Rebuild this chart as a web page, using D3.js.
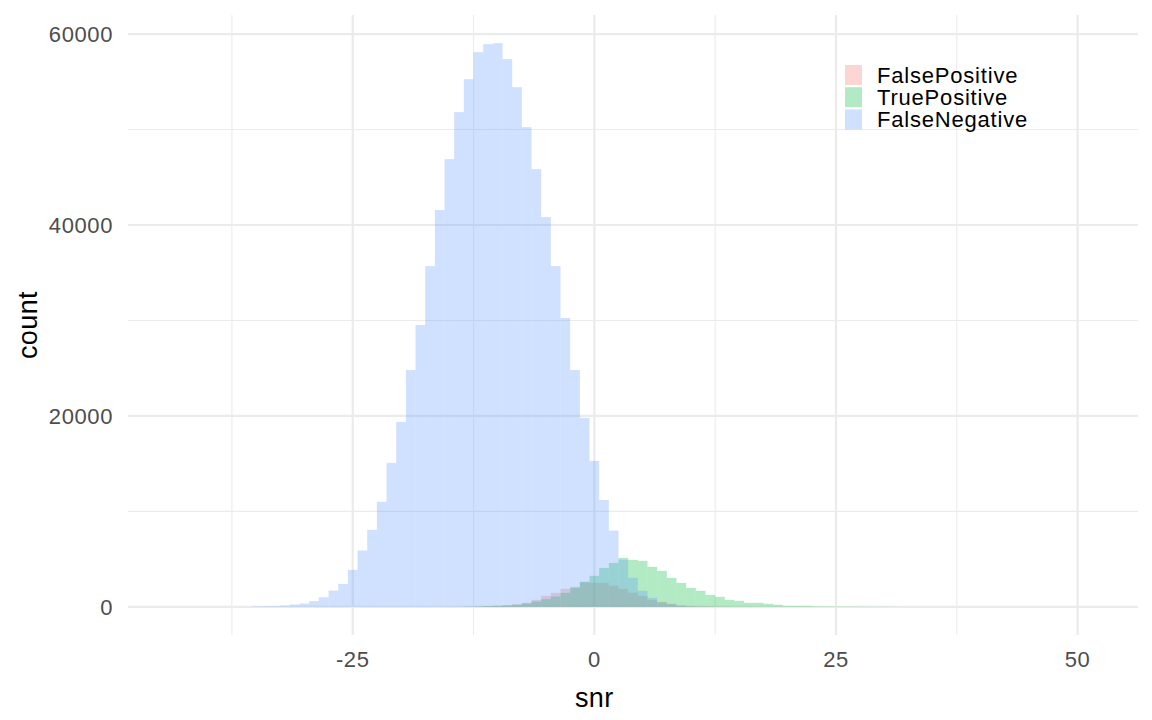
<!DOCTYPE html>
<html lang="en">
<head>
<meta charset="UTF-8">
<title>snr histogram</title>
<script src="https://cdn.jsdelivr.net/npm/d3@7"></script>
<style>
  body { margin: 0; background: #fff; }
  text { font-family: "Liberation Sans", Arial, sans-serif; }
</style>
</head>
<body>
<div id="chart"></div>
<script>
// bin centres (binwidth 1) and counts per class
const snrBins = [-35, -34, -33, -32, -31, -30, -29, -28, -27, -26, -25, -24, -23, -22, -21, -20,
  -19, -18, -17, -16, -15, -14, -13, -12, -11, -10, -9, -8, -7, -6, -5, -4, -3, -2, -1, 0,
  1, 2, 3, 4, 5, 6, 7, 8, 9, 10, 11, 12, 13, 14, 15, 16, 17, 18, 19, 20,
  21, 22, 23, 24, 25, 26, 27, 28, 29, 30, 31]

const falseNegative = [50, 60, 80, 140, 240, 340, 600, 1000, 1700, 2400, 3870, 5900, 8060, 11000, 15080, 19370,
  24810, 29520, 35700, 41570, 46900, 51830, 55280, 58110, 58950, 59050, 57380, 54440, 50260, 45860, 40830, 35700, 30260, 24810, 19790, 15290,
  11200, 7990, 4920, 3036, 1675, 940, 420, 250, 100, 50, 30, 15, 8, 5, 0, 0, 0, 0, 0, 0,
  0, 0, 0, 0, 0, 0, 0, 0, 0, 0, 0]

const truePositive = [0, 0, 0, 0, 0, 0, 0, 0, 0, 0, 0, 0, 0, 0, 0, 0,
  0, 0, 0, 0, 0, 0, 30, 50, 80, 110, 150, 210, 350, 560, 800, 1080, 1465, 1990, 2620, 3245,
  4080, 4600, 5130, 4920, 4816, 4190, 3770, 3036, 2510, 1990, 1675, 1256, 1047, 730, 628, 420, 420, 315, 210, 105,
  105, 105, 50, 45, 40, 35, 30, 25, 20, 15, 10]

const falsePositive = [0, 0, 0, 0, 0, 0, 0, 0, 0, 0, 0, 0, 0, 0, 0, 0,
  0, 0, 0, 0, 0, 0, 20, 40, 70, 110, 160, 280, 420, 730, 1150, 1465, 1885, 2094, 2560, 2510,
  2510, 2200, 1885, 1465, 1150, 730, 520, 330, 150, 70, 50, 40, 25, 15, 10, 0, 0, 0, 0, 0,
  0, 0, 0, 0, 0, 0, 0, 0, 0, 0, 0]

const classes = ['FalsePositive', 'TruePositive', 'FalseNegative']
const classColours = ['#F8766D', '#00BA38', '#619CFF']
const snrDataRange = [-43.5, 51.5]   // full data range (outer bins are near zero)
const xTicks = [-25, 0, 25, 50]
const yTicks = [0, 20000, 40000, 60000]

const width = 1152
const height = 720
const panel = { left: 128, right: 1138, top: 15, bottom: 635 }

const svg = d3.select('#chart').append('svg')
  .attr('width', width)
  .attr('height', height)

// ggplot style 5% expansion
const xSpan = snrDataRange[1] - snrDataRange[0]
const x = d3.scaleLinear()
  .domain([snrDataRange[0] - 0.05 * xSpan, snrDataRange[1] + 0.05 * xSpan])
  .range([panel.left, panel.right])

const yMax = d3.max(falseNegative.concat(truePositive, falsePositive))
const y = d3.scaleLinear()
  .domain([-0.05 * yMax, yMax * 1.05])
  .range([panel.bottom, panel.top])

const grid = svg.append('g')

const xMinor = xTicks.slice(0, -1).map((d, i) => (d + xTicks[i + 1]) / 2)
xMinor.unshift(xTicks[0] - 12.5)
const yMinor = yTicks.slice(0, -1).map((d, i) => (d + yTicks[i + 1]) / 2)

grid.selectAll('.xminor')
  .data(xMinor.filter(d => x(d) > panel.left))
  .enter().append('line')
  .attr('x1', d => x(d)).attr('x2', d => x(d))
  .attr('y1', panel.top).attr('y2', panel.bottom)
  .attr('stroke', '#EBEBEB').attr('stroke-width', 1.1)

grid.selectAll('.yminor')
  .data(yMinor)
  .enter().append('line')
  .attr('y1', d => y(d)).attr('y2', d => y(d))
  .attr('x1', panel.left).attr('x2', panel.right)
  .attr('stroke', '#EBEBEB').attr('stroke-width', 1.1)

grid.selectAll('.xmajor')
  .data(xTicks)
  .enter().append('line')
  .attr('x1', d => x(d)).attr('x2', d => x(d))
  .attr('y1', panel.top).attr('y2', panel.bottom)
  .attr('stroke', '#EBEBEB').attr('stroke-width', 2.2)

grid.selectAll('.ymajor')
  .data(yTicks)
  .enter().append('line')
  .attr('y1', d => y(d)).attr('y2', d => y(d))
  .attr('x1', panel.left).attr('x2', panel.right)
  .attr('stroke', '#EBEBEB').attr('stroke-width', 2.2)

// bars, drawn in factor order so FalseNegative ends up on top
const series = [falsePositive, truePositive, falseNegative]
series.forEach((counts, k) => {
  const bins = snrBins.map((s, i) => ({ snr: s, count: counts[i] })).filter(d => d.count > 0)
  svg.append('g').selectAll('rect')
    .data(bins)
    .enter().append('rect')
    .attr('x', d => x(d.snr - 0.5))
    .attr('width', d => x(d.snr + 0.5) - x(d.snr - 0.5))
    .attr('y', d => y(d.count))
    .attr('height', d => y(0) - y(d.count))
    .attr('fill', classColours[k])
    .attr('fill-opacity', 0.3)
})

// axes text
svg.append('g').selectAll('text')
  .data(xTicks)
  .enter().append('text')
  .attr('x', d => x(d))
  .attr('y', 667)
  .attr('text-anchor', 'middle')
  .attr('font-size', 22)
  .attr('letter-spacing', 0.6)
  .attr('fill', '#4D4D4D')
  .text(d => d)

svg.append('g').selectAll('text')
  .data(yTicks)
  .enter().append('text')
  .attr('x', 113)
  .attr('y', d => y(d) + 8)
  .attr('text-anchor', 'end')
  .attr('font-size', 22)
  .attr('letter-spacing', 0.6)
  .attr('fill', '#4D4D4D')
  .text(d => d)

svg.append('text')
  .attr('x', x(0))
  .attr('y', 707)
  .attr('text-anchor', 'middle')
  .attr('font-size', 27)
  .attr('letter-spacing', 0.4)
  .attr('fill', '#000')
  .text('snr')

svg.append('text')
  .attr('transform', `translate(37,${(panel.top + panel.bottom) / 2}) rotate(-90)`)
  .attr('text-anchor', 'middle')
  .attr('font-size', 27)
  .attr('letter-spacing', 0.4)
  .attr('fill', '#000')
  .text('count')

// legend
const legend = svg.append('g').attr('transform', 'translate(845,65)')
legend.selectAll('rect')
  .data(classes)
  .enter().append('rect')
  .attr('x', 0)
  .attr('y', (d, i) => i * 22.2)
  .attr('width', 17)
  .attr('height', 20)
  .attr('fill', (d, i) => classColours[i])
  .attr('fill-opacity', 0.3)

legend.selectAll('text')
  .data(classes)
  .enter().append('text')
  .attr('x', 32)
  .attr('y', (d, i) => i * 22.2 + 18)
  .attr('font-size', 22)
  .attr('letter-spacing', 0.8)
  .attr('fill', '#000')
  .text(d => d)
</script>
</body>
</html>
